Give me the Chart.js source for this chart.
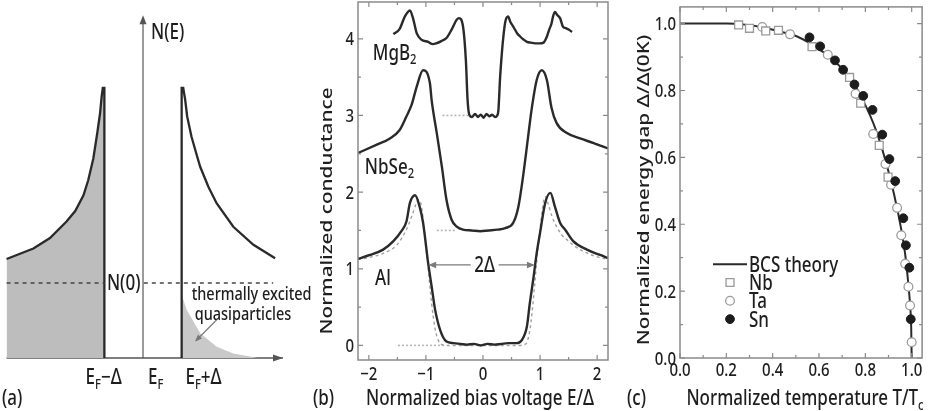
<!DOCTYPE html>
<html>
<head>
<meta charset="utf-8">
<script src="https://cdn.jsdelivr.net/npm/chart.js@4.4.1/dist/chart.umd.min.js"></script>
<style>
html, body { margin: 0; padding: 0; background: #fff; }
#wrap { position: relative; width: 929px; height: 411px; overflow: hidden; }
canvas { position: absolute; top: 0; }
</style>
</head>
<body>
<div id="wrap">
<canvas id="dosChart" width="320" height="411" style="left:0px"></canvas>
<canvas id="condChart" width="316" height="411" style="left:310px"></canvas>
<canvas id="gapChart" width="303" height="411" style="left:626px"></canvas>
</div>
<script>
// ---- (a) density of states, E in units of Delta, N in units of N(0)
const dosLeftE = [-3.46, -3.12, -2.78, -2.36, -1.94, -1.72, -1.51, -1.39, -1.26, -1.16, -1.09, -1.05, -1.02, -0.98, -0.98];
const dosLeftN = [1.32, 1.39, 1.46, 1.60, 1.82, 1.96, 2.17, 2.37, 2.66, 3.00, 3.26, 3.48, 3.60, 3.60, 0];
const dosRightE = [0.98, 0.98, 1.02, 1.07, 1.12, 1.23, 1.36, 1.45, 1.66, 1.87, 2.29, 2.80, 3.35];
const dosRightN = [0, 3.60, 3.60, 3.44, 3.22, 2.95, 2.71, 2.55, 2.28, 2.06, 1.75, 1.51, 1.33];
const thermalE = [0.98, 1.11, 1.45, 1.87, 2.29, 2.71, 2.90];
const thermalN = [0.84, 0.64, 0.33, 0.15, 0.06, 0.02, 0];
const n0Level = 1;
const n0LeftE = [-3.46, -0.97];
const n0RightE = [0.02, 3.30];
const eAxisE = [-3.46, 3.55];
const nAxisN = [0, 4.57];

// ---- (b) tunnelling conductance vs E/Delta
const mgb2Bias = [-1.57, -1.46, -1.37, -1.28, -1.22, -1.16, -1.08, -0.96, -0.88, -0.82, -0.73, -0.64, -0.55, -0.46, -0.42, -0.35, -0.30, -0.27, -0.24, -0.19, -0.14, -0.09, -0.04, 0.01, 0.06, 0.11, 0.16, 0.21, 0.25, 0.27, 0.30, 0.33, 0.36, 0.39, 0.44, 0.48, 0.53, 0.60, 0.65, 0.71, 0.77, 0.84, 0.91, 0.99, 1.06, 1.12, 1.16, 1.20, 1.23, 1.26, 1.30, 1.35, 1.40, 1.45, 1.50, 1.56];
const mgb2Cond = [4.06, 4.13, 4.29, 4.37, 4.25, 4.07, 3.99, 3.96, 3.93, 3.94, 3.97, 4.01, 4.12, 4.25, 4.27, 4.16, 3.72, 3.20, 3.01, 2.98, 3.02, 2.98, 3.01, 2.97, 3.02, 2.99, 3.01, 2.98, 3.00, 3.07, 3.50, 3.81, 4.05, 4.22, 4.29, 4.22, 4.16, 4.07, 4.03, 3.99, 3.96, 3.95, 3.94, 3.94, 3.95, 4.03, 4.12, 4.20, 4.30, 4.35, 4.31, 4.27, 4.16, 4.14, 4.12, 4.09];
const nbse2Bias = [-2.19, -1.86, -1.63, -1.46, -1.34, -1.25, -1.16, -1.05, -0.93, -0.90, -0.81, -0.72, -0.64, -0.55, -0.46, -0.35, -0.20, -0.05, 0.10, 0.25, 0.39, 0.53, 0.62, 0.71, 0.79, 0.85, 0.94, 1.03, 1.12, 1.20, 1.29, 1.47, 1.70, 1.94, 2.19];
const nbse2Cond = [2.51, 2.62, 2.70, 2.81, 2.99, 3.14, 3.38, 3.59, 3.42, 3.20, 2.77, 2.33, 1.90, 1.64, 1.55, 1.51, 1.50, 1.49, 1.50, 1.51, 1.53, 1.60, 1.81, 2.25, 2.72, 3.07, 3.46, 3.59, 3.46, 3.10, 2.90, 2.77, 2.70, 2.64, 2.57];
const alBias = [-2.19, -1.98, -1.75, -1.57, -1.43, -1.34, -1.28, -1.19, -1.11, -1.05, -0.96, -0.90, -0.84, -0.75, -0.64, -0.52, -0.40, -0.28, -0.16, -0.04, 0.08, 0.20, 0.32, 0.44, 0.59, 0.68, 0.77, 0.82, 0.88, 0.94, 1.00, 1.09, 1.18, 1.26, 1.35, 1.44, 1.58, 1.82, 2.05, 2.19];
const alCond = [1.13, 1.18, 1.25, 1.36, 1.49, 1.62, 1.86, 1.96, 1.81, 1.60, 1.07, 0.77, 0.47, 0.20, 0.05, 0.03, 0.02, 0.01, 0.02, 0.00, 0.02, 0.01, 0.02, 0.03, 0.03, 0.07, 0.25, 0.55, 0.86, 1.20, 1.47, 1.86, 1.99, 1.81, 1.60, 1.51, 1.36, 1.25, 1.18, 1.14];
const alFitBias = [-2.19, -1.98, -1.75, -1.51, -1.37, -1.25, -1.17, -1.13, -1.08, -1.02, -0.96, -0.90, -0.84, -0.78, -0.72, -0.60, 0.60, 0.72, 0.78, 0.84, 0.90, 0.96, 1.02, 1.06, 1.09, 1.14, 1.21, 1.29, 1.38, 1.47, 1.58, 1.70, 1.94, 2.19];
const alFitCond = [1.12, 1.15, 1.20, 1.31, 1.47, 1.68, 1.85, 1.90, 1.82, 1.45, 1.00, 0.55, 0.22, 0.06, 0.01, 0, 0, 0.01, 0.06, 0.30, 0.75, 1.25, 1.65, 1.88, 1.94, 1.85, 1.68, 1.55, 1.44, 1.38, 1.31, 1.25, 1.17, 1.12];
const mgb2RefBias = [-0.71, -0.25];
const nbse2RefBias = [-0.81, -0.46];
const alRefBias = [-1.49, -0.66];
const gapArrowBias = [-0.96, 0.91];
const gapArrowCond = 1.05;
const biasTicks = [-2, -1, 0, 1, 2];
const biasTickLabels = ["\u22122", "\u22121", "0", "1", "2"];
const condTicks = [0, 1, 2, 3, 4];
const condTickLabels = ["0", "1", "2", "3", "4"];

// ---- (c) gap vs reduced temperature
const bcsT = [0, 0.1, 0.2, 0.28, 0.35, 0.42, 0.49, 0.578, 0.662, 0.732, 0.789, 0.845, 0.901, 0.943, 0.972, 0.985, 0.993, 0.998, 1.0];
const bcsGap = [1.0, 1.0, 1.0, 0.997, 0.99, 0.978, 0.966, 0.934, 0.89, 0.84, 0.772, 0.683, 0.555, 0.428, 0.31, 0.225, 0.16, 0.09, 0];
const nbT = [0.253, 0.30, 0.37, 0.425, 0.57, 0.732, 0.78, 0.86, 0.898];
const nbGap = [0.996, 0.986, 0.978, 0.98, 0.931, 0.839, 0.762, 0.636, 0.541];
const taT = [0.355, 0.475, 0.638, 0.758, 0.834, 0.887, 0.911, 0.937, 0.955, 0.972, 0.986, 0.993, 1.0];
const taGap = [0.99, 0.968, 0.907, 0.79, 0.67, 0.58, 0.518, 0.449, 0.367, 0.282, 0.213, 0.157, 0.047];
const snT = [0.559, 0.605, 0.669, 0.704, 0.753, 0.791, 0.831, 0.873, 0.904, 0.929, 0.964, 0.975, 0.99, 0.996];
const snGap = [0.959, 0.932, 0.89, 0.862, 0.818, 0.784, 0.742, 0.668, 0.595, 0.529, 0.418, 0.337, 0.27, 0.116];
const tempTicks = [0, 0.2, 0.4, 0.6, 0.8, 1.0];
const tempTickLabels = ["0.0", "0.2", "0.4", "0.6", "0.8", "1.0"];
const gapTicks = [0, 0.2, 0.4, 0.6, 0.8, 1.0];
const gapTickLabels = ["0.0", "0.2", "0.4", "0.6", "0.8", "1.0"];
const legendLabels = ["BCS theory", "Nb", "Ta", "Sn"];

const TXT = "#1e1e1e";
const LINE = "#2a2a2a";
const FRAME = "#8a8a8a";
const FONT = '"Noto Sans", "DejaVu Sans", sans-serif';
const WEIGHT = "500";
const SY = 1.22; // the original lettering is drawn a bit tall

const pts = (xs, ys) => xs.map((x, i) => ({ x: x, y: ys[i] }));
const flat = (xs, level) => xs.map(x => ({ x: x, y: level }));

function drawText(ctx, parts, x, y, size, align, rot, color) {
    if (typeof parts === "string") parts = [{ t: parts }];
    ctx.save();
    ctx.translate(x, y);
    if (rot) { ctx.rotate(-Math.PI / 2); ctx.scale(SY, 1); }
    else { ctx.scale(1, SY); }
    ctx.fillStyle = color || TXT;
    ctx.textAlign = "left";
    ctx.textBaseline = "alphabetic";
    const fs = p => (p.sub ? size * 0.66 : size);
    let w = 0;
    parts.forEach(p => { ctx.font = WEIGHT + " " + fs(p) + "px " + FONT; w += ctx.measureText(p.t).width; });
    let cx = align === "left" ? 0 : align === "right" ? -w : -w / 2;
    parts.forEach(p => {
        ctx.font = WEIGHT + " " + fs(p) + "px " + FONT;
        ctx.fillText(p.t, cx, size * 0.36 + (p.sub ? size * 0.2 : 0));
        cx += ctx.measureText(p.t).width;
    });
    ctx.restore();
}

function arrowHead(ctx, tx, ty, fx, fy, len, half) {
    const d = Math.hypot(tx - fx, ty - fy);
    const ux = (tx - fx) / d, uy = (ty - fy) / d;
    const bx = tx - ux * len, by = ty - uy * len;
    ctx.beginPath();
    ctx.moveTo(tx, ty);
    ctx.lineTo(bx - uy * half, by + ux * half);
    ctx.lineTo(bx + uy * half, by - ux * half);
    ctx.closePath();
    ctx.fill();
}

// box round the plot with inward ticks on all four sides
function drawFrame(chart, xMaj, xStep, yMaj, yStep) {
    const ctx = chart.ctx, a = chart.chartArea;
    const sx = chart.scales.x, sy = chart.scales.y;
    ctx.save();
    ctx.strokeStyle = FRAME;
    ctx.lineWidth = 1.5;
    ctx.strokeRect(a.left, a.top, a.right - a.left, a.bottom - a.top);
    ctx.lineWidth = 1.2;
    ctx.beginPath();
    const xs0 = Math.ceil(sx.min / xStep) * xStep;
    for (let v = xs0; v <= sx.max + 1e-9; v += xStep) {
        const major = xMaj.some(m => Math.abs(m - v) < 1e-6);
        const len = major ? 5 : 3;
        const p = sx.getPixelForValue(v);
        ctx.moveTo(p, a.bottom); ctx.lineTo(p, a.bottom - len);
        ctx.moveTo(p, a.top); ctx.lineTo(p, a.top + len);
    }
    const ys0 = Math.ceil(sy.min / yStep) * yStep;
    for (let v = ys0; v <= sy.max + 1e-9; v += yStep) {
        const major = yMaj.some(m => Math.abs(m - v) < 1e-6);
        const len = major ? 5 : 3;
        const p = sy.getPixelForValue(v);
        ctx.moveTo(a.left, p); ctx.lineTo(a.left + len, p);
        ctx.moveTo(a.right, p); ctx.lineTo(a.right - len, p);
    }
    ctx.stroke();
    ctx.restore();
}

function baseOptions(padding, xr, yr) {
    return {
        responsive: false,
        animation: false,
        devicePixelRatio: 1,
        layout: { padding: padding },
        elements: { point: { radius: 0 }, line: { tension: 0 } },
        plugins: { legend: { display: false }, tooltip: { enabled: false } },
        scales: {
            x: { type: "linear", display: false, min: xr[0], max: xr[1] },
            y: { type: "linear", display: false, min: yr[0], max: yr[1] }
        }
    };
}

// ---------------- panel (a)
const dosPlugin = {
    id: "dosDecor",
    afterDatasetsDraw(chart) {
        const ctx = chart.ctx;
        const X = v => chart.scales.x.getPixelForValue(v);
        const Y = v => chart.scales.y.getPixelForValue(v);
        ctx.save();
        ctx.fillStyle = "#555";
        arrowHead(ctx, X(0), Y(nAxisN[1]), X(0), Y(0), 9, 3.5);
        arrowHead(ctx, X(eAxisE[1]), Y(0), X(0), Y(0), 10, 3.5);
        // arrow pointing at the thermally excited tail
        ctx.strokeStyle = "#777";
        ctx.fillStyle = "#777";
        ctx.lineWidth = 1.1;
        ctx.beginPath();
        ctx.moveTo(X(1.87), Y(0.51));
        ctx.lineTo(X(1.34), Y(0.23));
        ctx.stroke();
        arrowHead(ctx, X(1.32), Y(0.22), X(1.87), Y(0.51), 7, 2.8);
        ctx.restore();

        drawText(ctx, "N(E)", X(0) + 8, Y(nAxisN[1]) + 16, 17, "left");
        drawText(ctx, "N(0)", (X(-0.98) + X(0)) / 2, Y(n0Level), 17, "center");
        const yl = Y(0) + 19;
        drawText(ctx, [{ t: "E" }, { t: "F", sub: true }, { t: "\u2212\u0394" }], X(-1) - 18, yl, 17, "left");
        drawText(ctx, [{ t: "E" }, { t: "F", sub: true }], X(0) + 5, yl, 17, "left");
        drawText(ctx, [{ t: "E" }, { t: "F", sub: true }, { t: "+\u0394" }], X(1) + 3, yl, 17, "left");
        drawText(ctx, "thermally excited", X(0.98) + 10, Y(0) - 64, 14.5, "left");
        drawText(ctx, "quasiparticles", X(0.98) + 13, Y(0) - 44, 14.5, "left");
        drawText(ctx, "(a)", 2, 398, 17, "left");
    }
};

new Chart(document.getElementById("dosChart").getContext("2d"), {
    type: "line",
    data: {
        datasets: [
            { data: pts(dosRightE, dosRightN), borderColor: LINE, borderWidth: 2.3, fill: false, clip: false, order: 1 },
            { data: pts(dosLeftE, dosLeftN), borderColor: LINE, borderWidth: 2.3, backgroundColor: "#bdbdbd", fill: "origin", clip: false, order: 2 },
            { data: flat(n0LeftE, n0Level), borderColor: "#444", borderWidth: 1.4, borderDash: [4, 4], fill: false, order: 0 },
            { data: flat(n0RightE, n0Level), borderColor: "#444", borderWidth: 1.4, borderDash: [4, 4], fill: false, order: 0 },
            { data: pts(thermalE, thermalN), borderWidth: 0, backgroundColor: "#c9c9c9", fill: "origin", order: 3 },
            { data: flat(eAxisE, 0), borderColor: "#555", borderWidth: 1.5, fill: false, clip: false, order: 4 },
            { data: [{ x: 0, y: nAxisN[0] }, { x: 0, y: nAxisN[1] - 0.05 }], borderColor: "#7a7a7a", borderWidth: 1.5, fill: false, clip: false, order: 4 }
        ]
    },
    options: baseOptions({ left: 5, right: 37, top: 13, bottom: 53 }, [-3.5, 3.55], [0, 4.6]),
    plugins: [dosPlugin]
});

// ---------------- panel (b)
const condPlugin = {
    id: "condDecor",
    afterDatasetsDraw(chart) {
        const ctx = chart.ctx, a = chart.chartArea;
        const X = v => chart.scales.x.getPixelForValue(v);
        const Y = v => chart.scales.y.getPixelForValue(v);
        drawFrame(chart, biasTicks, 0.5, condTicks, 0.5);
        biasTicks.forEach((v, i) => drawText(ctx, biasTickLabels[i], X(v), a.bottom + 13, 15, "center"));
        condTicks.forEach((v, i) => drawText(ctx, condTickLabels[i], a.left - 4, Y(v), 15, "right"));

        // 2 Delta arrow
        const ya = Y(gapArrowCond);
        ctx.save();
        ctx.strokeStyle = "#7a7a7a";
        ctx.fillStyle = "#7a7a7a";
        ctx.lineWidth = 1.2;
        ctx.beginPath();
        ctx.moveTo(X(gapArrowBias[0]) + 4, ya);
        ctx.lineTo(X(gapArrowBias[1]) - 4, ya);
        ctx.stroke();
        arrowHead(ctx, X(gapArrowBias[0]), ya, X(0), ya, 8, 3.2);
        arrowHead(ctx, X(gapArrowBias[1]), ya, X(0), ya, 8, 3.2);
        ctx.fillStyle = "#fff";
        ctx.fillRect(X(0.03) - 14, ya - 10, 28, 20);
        ctx.restore();
        drawText(ctx, "2\u0394", X(0.03), ya, 17, "center");

        drawText(ctx, [{ t: "MgB" }, { t: "2", sub: true }], X(-1.93), Y(3.82), 17, "left");
        drawText(ctx, [{ t: "NbSe" }, { t: "2", sub: true }], X(-2.07), Y(2.33), 17, "left");
        drawText(ctx, "Al", X(-1.89), Y(0.89), 17, "left");

        drawText(ctx, "Normalized bias voltage E/\u0394", 170, 398, 17, "center");
        drawText(ctx, "Normalized conductance", 16, 211, 17, "center", true);
        drawText(ctx, "(b)", 3, 398, 17, "left");
    }
};

const solid = (xs, ys) => ({ data: pts(xs, ys), borderColor: LINE, borderWidth: 2.4, cubicInterpolationMode: "monotone", fill: false, order: 1 });
const refLine = (xs, level) => ({ data: flat(xs, level), borderColor: "#b5b5b5", borderWidth: 1.6, borderDash: [2, 2], fill: false, order: 3 });

new Chart(document.getElementById("condChart").getContext("2d"), {
    type: "line",
    data: {
        datasets: [
            solid(mgb2Bias, mgb2Cond),
            solid(nbse2Bias, nbse2Cond),
            solid(alBias, alCond),
            { data: pts(alFitBias, alFitCond), borderColor: "#a0a0a0", borderWidth: 1.4, borderDash: [3, 3], cubicInterpolationMode: "monotone", fill: false, order: 2 },
            refLine(mgb2RefBias, 3),
            refLine(nbse2RefBias, 1.5),
            refLine(alRefBias, 0)
        ]
    },
    options: baseOptions({ left: 48, right: 18, top: 2, bottom: 51 }, [-2.19, 2.19], [-0.19, 4.48]),
    plugins: [condPlugin]
});

// ---------------- panel (c)
const gapPlugin = {
    id: "gapDecor",
    afterDatasetsDraw(chart) {
        const ctx = chart.ctx, a = chart.chartArea;
        const X = v => chart.scales.x.getPixelForValue(v);
        const Y = v => chart.scales.y.getPixelForValue(v);
        drawFrame(chart, tempTicks, 0.1, gapTicks, 0.1);
        tempTicks.forEach((v, i) => drawText(ctx, tempTickLabels[i], X(v), a.bottom + 11.5, 15, "center"));
        gapTicks.forEach((v, i) => drawText(ctx, gapTickLabels[i], a.left - 4, Y(v), 15, "right"));

        // legend
        const ds = chart.data.datasets;
        const lx = a.left + 50, tx = a.left + 69;
        const ly = i => a.top + 257.3 + i * 18.3;
        ctx.save();
        ctx.strokeStyle = ds[0].borderColor;
        ctx.lineWidth = ds[0].borderWidth;
        ctx.beginPath();
        ctx.moveTo(a.left + 33, ly(0));
        ctx.lineTo(a.left + 67, ly(0));
        ctx.stroke();
        for (let i = 1; i < 4; i++) {
            ctx.fillStyle = ds[i].backgroundColor;
            ctx.strokeStyle = ds[i].borderColor;
            ctx.lineWidth = ds[i].borderWidth;
            Chart.helpers.drawPoint(ctx, {
                pointStyle: ds[i].pointStyle,
                radius: ds[i].pointRadius,
                borderWidth: ds[i].borderWidth
            }, lx, ly(i));
        }
        ctx.restore();
        legendLabels.forEach((s, i) => drawText(ctx, s, tx, ly(i), 17, "left"));

        drawText(ctx, [{ t: "Normalized temperature T/T" }, { t: "c", sub: true }], 179, 398, 17, "center");
        drawText(ctx, "Normalized energy gap \u0394/\u0394(0K)", 17, 190, 17, "center", true);
        drawText(ctx, "(c)", 1, 398, 17, "left");
    }
};

new Chart(document.getElementById("gapChart").getContext("2d"), {
    type: "scatter",
    data: {
        datasets: [
            { data: pts(bcsT, bcsGap), showLine: true, borderColor: LINE, borderWidth: 2, pointRadius: 0, cubicInterpolationMode: "monotone", order: 4 },
            { data: pts(nbT, nbGap), pointStyle: "rect", pointRadius: 5.6, borderColor: "#9a9a9a", backgroundColor: "#ffffff", borderWidth: 1.3, clip: false, order: 2 },
            { data: pts(taT, taGap), pointStyle: "circle", pointRadius: 4.4, borderColor: "#9a9a9a", backgroundColor: "#ffffff", borderWidth: 1.3, clip: false, order: 3 },
            { data: pts(snT, snGap), pointStyle: "circle", pointRadius: 4.4, borderColor: "#1c1c1c", backgroundColor: "#1c1c1c", borderWidth: 1, clip: false, order: 1 }
        ]
    },
    options: baseOptions({ left: 54, right: 2, top: 2, bottom: 53 }, [0, 1.045], [0, 1.05]),
    plugins: [gapPlugin]
});
</script>
</body>
</html>
